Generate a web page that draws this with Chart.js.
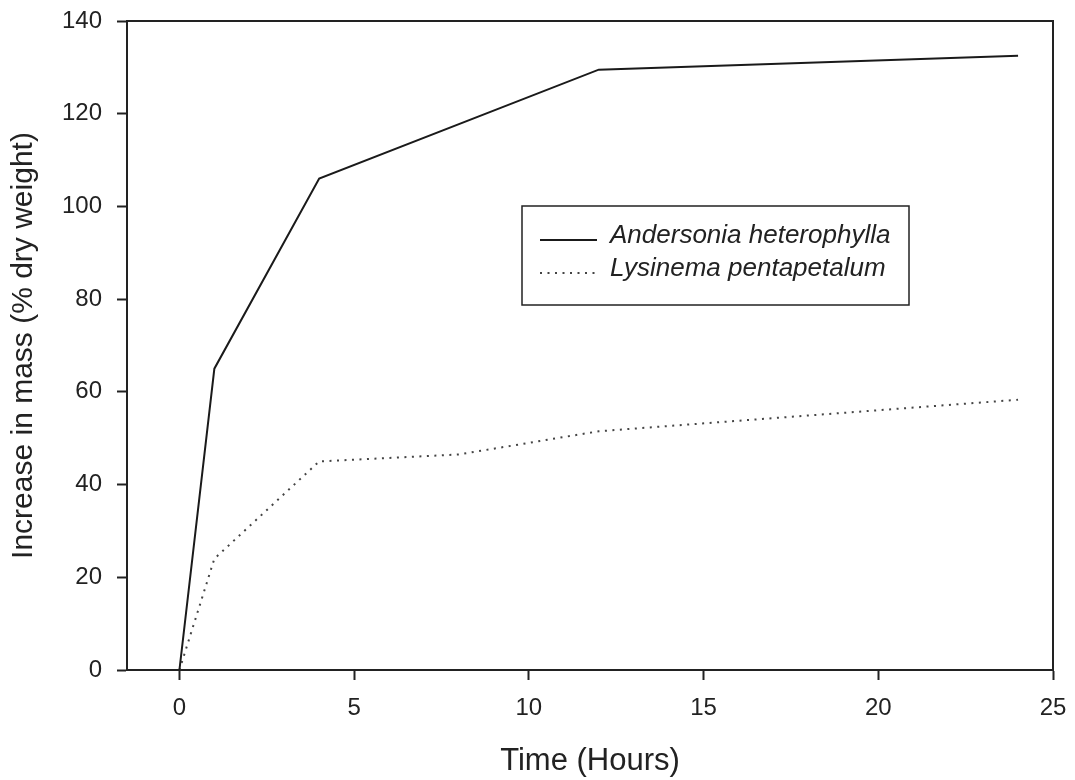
<!DOCTYPE html>
<html>
<head>
<meta charset="utf-8">
<script src="https://cdn.jsdelivr.net/npm/chart.js@4"></script>
<style>
  html, body { margin: 0; padding: 0; background: #fff; }
  #wrap { width: 1075px; height: 780px; }
</style>
</head>
<body>
<div id="wrap"><canvas id="myChart" width="1075" height="780"></canvas></div>
<script>
// data
const andersonTime = [0, 1, 4, 12, 24];
const andersonMass = [0, 65, 106, 129.5, 132.5];
const lysinemaTime = [0, 1, 4, 8, 12, 24];
const lysinemaMass = [0, 24, 45, 46.5, 51.5, 58.3];
const seriesNames = ['Andersonia heterophylla', 'Lysinema pentapetalum'];
const xTicks = [0, 5, 10, 15, 20, 25];
const yTicks = [0, 20, 40, 60, 80, 100, 120, 140];

const ink = '#222';
const fontFamily = '"Liberation Sans", Arial, sans-serif';

// box round the plot + legend in the upper middle
const framePlugin = {
  id: 'frame',
  afterDraw(chart) {
    const ctx = chart.ctx;
    const a = chart.chartArea;
    ctx.save();
    ctx.strokeStyle = ink;
    ctx.lineWidth = 2;
    ctx.beginPath();
    ctx.moveTo(a.left, a.top);
    ctx.lineTo(a.right, a.top);
    ctx.lineTo(a.right, a.bottom);
    ctx.stroke();

    // legend
    const bx = 522, by = 206, bw = 387, bh = 99;
    ctx.lineWidth = 1.5;
    ctx.strokeRect(bx, by, bw, bh);
    const lineRows = [240, 273];
    const textRows = [243, 276];
    chart.data.datasets.forEach((ds, i) => {
      ctx.strokeStyle = ds.borderColor;
      ctx.lineWidth = ds.borderWidth;
      ctx.setLineDash(ds.borderDash || []);
      ctx.beginPath();
      ctx.moveTo(540, lineRows[i]);
      ctx.lineTo(597, lineRows[i]);
      ctx.stroke();
      ctx.setLineDash([]);
      ctx.fillStyle = ink;
      ctx.font = 'italic 26px ' + fontFamily;
      ctx.textBaseline = 'alphabetic';
      ctx.textAlign = 'left';
      ctx.fillText(ds.label, 610, textRows[i]);
    });
    ctx.restore();
  }
};

const ctx = document.getElementById('myChart').getContext('2d');
new Chart(ctx, {
  type: 'line',
  data: {
    datasets: [{
      label: seriesNames[0],
      data: andersonTime.map((t, i) => ({ x: t, y: andersonMass[i] })),
      borderColor: '#1a1a1a',
      borderWidth: 2,
      pointRadius: 0,
      tension: 0,
      fill: false
    }, {
      label: seriesNames[1],
      data: lysinemaTime.map((t, i) => ({ x: t, y: lysinemaMass[i] })),
      borderColor: '#444',
      borderWidth: 2,
      borderDash: [2, 5.5],
      pointRadius: 0,
      tension: 0,
      fill: false
    }]
  },
  options: {
    responsive: false,
    animation: false,
    layout: { padding: { left: 0, top: 21, right: 22, bottom: 0 } },
    plugins: {
      legend: { display: false },
      tooltip: { enabled: false }
    },
    scales: {
      x: {
        type: 'linear',
        min: -1.5,
        max: 25,
        afterFit(scale) {
          scale.height = 110;
          scale.paddingLeft = 0;
          scale.paddingRight = 0;
        },
        afterBuildTicks(scale) { scale.ticks = xTicks.map(v => ({ value: v })); },
        border: { display: true, color: ink, width: 2 },
        grid: { display: true, drawOnChartArea: false, drawTicks: true, tickLength: 10, tickWidth: 2, tickColor: ink },
        ticks: { color: ink, padding: 14, font: { family: fontFamily, size: 24 } },
        title: { display: true, text: 'Time (Hours)', color: ink, padding: { top: 0, bottom: 0 }, font: { family: fontFamily, size: 31 } }
      },
      y: {
        type: 'linear',
        min: 0,
        max: 140,
        afterFit(scale) {
          scale.width = 127;
          scale.paddingTop = 0;
          scale.paddingBottom = 0;
        },
        afterBuildTicks(scale) { scale.ticks = yTicks.map(v => ({ value: v })); },
        border: { display: true, color: ink, width: 2 },
        grid: { display: true, drawOnChartArea: false, drawTicks: true, tickLength: 10, tickWidth: 2, tickColor: ink },
        ticks: { color: ink, padding: 15, font: { family: fontFamily, size: 24 } },
        title: { display: true, text: 'Increase in mass (% dry weight)', color: ink, padding: { top: 6, bottom: 0 }, font: { family: fontFamily, size: 30 } }
      }
    }
  },
  plugins: [framePlugin]
});
</script>
</body>
</html>
